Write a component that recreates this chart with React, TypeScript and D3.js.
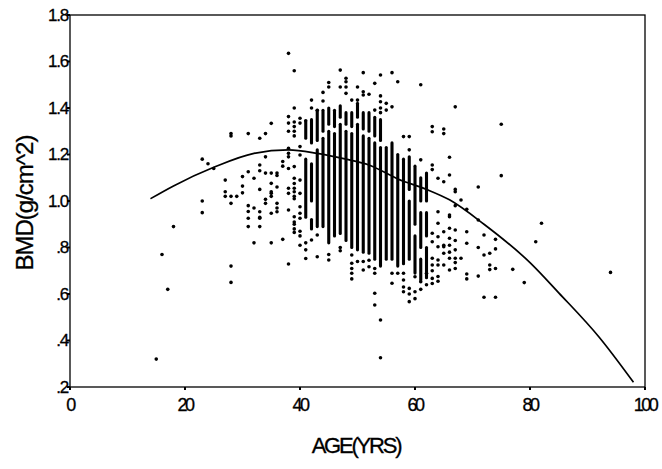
import React from "react";
import * as d3 from "d3";

// axis ticks
const xTicks = [0, 20, 40, 60, 80, 100];
const yTicks = [0.2, 0.4, 0.6, 0.8, 1.0, 1.2, 1.4, 1.6, 1.8];
const yTickLabels = [".2", ".4", ".6", ".8", "1.0", "1.2", "1.4", "1.6", "1.8"];

// fitted curve
const curveAge = [14, 18, 25, 32, 38, 43, 48, 52, 57, 62, 66, 72, 80, 85, 92, 98];
const curveBmd = [1.01, 1.065, 1.145, 1.205, 1.22, 1.205, 1.18, 1.155, 1.095, 1.05, 1.005, 0.9, 0.735, 0.605, 0.415, 0.22];

// dense runs of points at one age (too packed to tell apart)
const segAge = [41, 41, 42, 42, 42, 43, 43, 44, 44, 45, 45, 46, 46, 47, 47, 48, 48, 49, 49, 50, 50, 51, 51, 52, 52, 53, 53, 54, 54, 55, 56, 57, 58, 59, 59, 60, 60, 61, 61, 61, 62, 62, 62];
const segLow = [0.93, 1.27, 1.0, 1.25, 0.88, 0.89, 1.26, 0.89, 1.3, 0.82, 1.33, 0.85, 1.32, 0.86, 1.36, 0.83, 1.33, 0.8, 1.32, 0.79, 1.36, 0.78, 1.31, 0.775, 1.3, 0.75, 1.28, 0.72, 1.26, 0.75, 0.75, 0.72, 0.73, 0.75, 1.05, 0.69, 0.9, 0.66, 0.8, 1.0, 0.67, 0.85, 1.0];
const segHigh = [1.18, 1.34, 1.16, 1.35, 0.92, 1.22, 1.39, 1.27, 1.39, 1.3, 1.4, 1.29, 1.39, 1.33, 1.41, 1.3, 1.38, 1.29, 1.38, 1.33, 1.42, 1.28, 1.38, 1.27, 1.38, 1.25, 1.36, 1.23, 1.35, 1.23, 1.25, 1.2, 1.18, 1.0, 1.19, 0.85, 1.15, 0.75, 0.95, 1.1, 0.8, 0.95, 1.12];

// single points
const pointAge = [
  15, 16, 17, 18, 23, 23, 23, 24, 25,
  27, 27, 27, 28, 28, 28, 28, 28, 28, 29,
  30, 30, 30, 31, 31, 31, 31, 31, 31, 32, 32, 32,
  33, 33, 33, 33, 33, 33, 33, 33, 34, 34, 34, 34, 34,
  35, 35, 35, 35, 35, 35, 35, 35, 36, 36, 36, 36, 36, 36, 37, 37, 37,
  38, 38, 38, 38, 38, 38, 38, 38, 38, 38, 38, 38,
  39, 39, 39, 39, 39, 39, 39, 39, 39, 39, 39, 39, 39, 39, 39, 39, 39, 39,
  40, 40, 40, 40, 40, 40, 40, 40, 40, 40, 40, 40,
  41, 41, 41, 41, 42, 42, 42, 43, 43, 43, 44, 44,
  45, 45, 45, 45, 47, 47, 47, 47, 48, 48, 48, 48,
  49, 49, 49, 49, 49, 49, 50, 50, 50, 51, 51, 51, 51, 51, 52, 52, 52,
  53, 53, 53, 53, 53, 53, 54, 54, 54, 54, 54, 54, 54, 55, 55,
  56, 56, 56, 56, 57, 57, 58, 58, 58, 58, 58, 59, 59, 59, 59, 59,
  60, 60, 60, 61, 61, 61, 61, 62, 62,
  63, 63, 63, 63, 63, 63, 63, 63, 63, 63, 63,
  64, 64, 64, 64, 64, 64, 64, 64, 64,
  65, 65, 65, 65, 65, 65, 65, 65,
  66, 66, 66, 66, 66, 66, 66, 66, 66, 66,
  67, 67, 67, 67, 67, 67, 67, 67, 67, 67, 68, 68,
  69, 69, 69, 69, 69, 71, 71, 71, 71, 72, 72, 72, 73, 73, 73,
  74, 74, 74, 74, 75, 75, 77, 79, 81, 82, 94,
];
const pointBmd = [
  0.32, 0.77, 0.62, 0.89, 1.18, 1.0, 0.95, 1.16, 1.14,
  1.09, 1.04, 1.02, 1.29, 1.28, 1.02, 0.99, 0.72, 0.65, 1.02,
  1.105, 1.064, 1.035, 1.29, 1.126, 0.98, 0.955, 0.926, 0.89, 1.098, 0.97, 0.82,
  1.27, 1.155, 1.13, 1.05, 0.954, 0.926, 0.89, 0.93, 1.29, 1.19, 1.12, 1.007, 0.99,
  1.334, 1.12, 1.076, 1.04, 1.02, 0.947, 0.82, 1.033, 1.12, 1.11, 1.06, 0.99, 0.97, 0.954, 1.15, 0.835, 1.17,
  1.635, 1.363, 1.335, 1.3, 1.227, 1.19, 1.205, 1.14, 1.055, 1.033, 0.961, 0.729,
  1.56, 1.4, 1.34, 1.32, 1.3, 1.28, 1.148, 1.098, 1.075, 1.055, 1.04, 1.02, 1.01, 0.932, 0.91, 0.9, 0.88, 0.865,
  1.356, 1.335, 1.234, 1.198, 1.09, 1.033, 0.975, 0.947, 0.926, 0.87, 0.85, 0.81,
  1.345, 0.82, 0.753, 0.79, 1.434, 1.4, 0.832, 1.39, 0.854, 0.76, 1.467, 1.43,
  1.51, 1.49, 0.746, 0.77, 1.563, 1.49, 0.786, 0.8, 1.528, 1.513, 1.49, 1.463,
  1.434, 0.768, 0.732, 0.689, 0.71, 0.665, 1.49, 1.434, 0.74, 1.552, 1.47, 1.456, 0.703, 0.74, 1.459, 0.717, 0.745,
  1.506, 1.391, 0.689, 0.71, 0.603, 0.553, 1.542, 1.452, 1.427, 1.4, 1.38, 0.488, 0.326, 1.42, 1.391,
  1.552, 1.405, 0.689, 0.646, 1.513, 0.689, 1.277, 0.689, 0.66, 0.61, 0.63, 1.277, 1.22, 0.624, 0.6, 0.567,
  0.674, 0.58, 0.61, 1.5, 1.177, 0.653, 0.62, 0.689, 0.64,
  1.298, 1.32, 1.155, 1.135, 0.861, 0.825, 0.725, 0.754, 0.7, 0.667, 0.645,
  1.098, 0.954, 0.904, 0.846, 0.803, 0.746, 0.725, 0.675, 0.655,
  1.31, 1.29, 1.083, 0.868, 0.803, 0.725, 0.81, 0.775,
  1.188, 1.112, 0.932, 0.883, 0.84, 0.703, 0.94, 0.754, 0.81, 0.78,
  1.405, 1.05, 1.04, 0.98, 0.875, 0.83, 0.79, 0.754, 0.735, 0.71,
  1.004, 0.754,
  0.964, 0.868, 0.818, 0.686, 0.665, 1.06, 0.918, 0.8, 0.677, 0.854, 0.768, 0.586, 0.725, 0.705, 0.775,
  0.835, 0.794, 0.71, 0.586, 1.109, 1.33, 0.706, 0.649, 0.825, 0.904, 0.693,
];

const FONT = "'Liberation Sans', Arial, sans-serif";

export default function App() {
  const width = 662;
  const height = 469;
  const x = d3.scaleLinear().domain([0, 100]).range([70, 645]);
  const y = d3.scaleLinear().domain([0.2, 1.8]).range([387, 15]);

  const curvePoints = curveAge.map((a, i) => [a, curveBmd[i]] as [number, number]);
  const line = d3
    .line<[number, number]>()
    .x((d) => x(d[0]))
    .y((d) => y(d[1]))
    .curve(d3.curveMonotoneX);

  const [x0, x1] = x.range();
  const [y0, y1] = y.range();

  return (
    <svg
      width={width}
      height={height}
      style={{ position: "absolute", left: 0, top: 0, background: "#fff" }}
    >
      <rect x={0} y={0} width={width} height={height} fill="#fff" />

      {/* dense columns */}
      <g stroke="#000" strokeWidth={3.1} strokeLinecap="round">
        {segAge.map((a, i) => (
          <line key={i} x1={x(a)} x2={x(a)} y1={y(segLow[i])} y2={y(segHigh[i])} />
        ))}
      </g>

      {/* single points */}
      <g fill="#000">
        {pointAge.map((a, i) => (
          <circle key={i} cx={x(a)} cy={y(pointBmd[i])} r={1.8} />
        ))}
      </g>

      {/* fitted curve */}
      <path d={line(curvePoints) || ""} fill="none" stroke="#000" strokeWidth={1.7} />

      {/* frame */}
      <rect x={x0} y={y1} width={x1 - x0} height={y0 - y1} fill="none" stroke="#000" strokeWidth={1.3} />

      {/* y axis ticks */}
      <g fontFamily={FONT} fontSize={17} textAnchor="end" letterSpacing={-1.2} stroke="#000" strokeWidth={0.3}>
        {yTicks.map((t, i) => (
          <g key={t} transform={`translate(${x0},${y(t)})`}>
            <line x1={-3} x2={0} stroke="#000" strokeWidth={2} />
            <text x={-2} dy="0.35em">{yTickLabels[i]}</text>
          </g>
        ))}
      </g>

      {/* x axis ticks */}
      <g fontFamily={FONT} fontSize={18} textAnchor="middle" letterSpacing={-2.5} stroke="#000" strokeWidth={0.3}>
        {xTicks.map((t) => (
          <g key={t} transform={`translate(${x(t)},${y0})`}>
            <line y1={0} y2={3} stroke="#000" strokeWidth={2} />
            <text y={24}>{t}</text>
          </g>
        ))}
      </g>

      <text
        x={356}
        y={453}
        fontFamily={FONT}
        fontSize={22}
        textAnchor="middle"
        letterSpacing={-2.2}
        stroke="#000"
        strokeWidth={0.3}
      >
        AGE(YRS)
      </text>
      <text
        transform="translate(33,203) rotate(-90)"
        fontFamily={FONT}
        fontSize={24}
        textAnchor="middle"
        letterSpacing={-1}
        stroke="#000"
        strokeWidth={0.3}
      >
        BMD(g/cm^2)
      </text>
    </svg>
  );
}
